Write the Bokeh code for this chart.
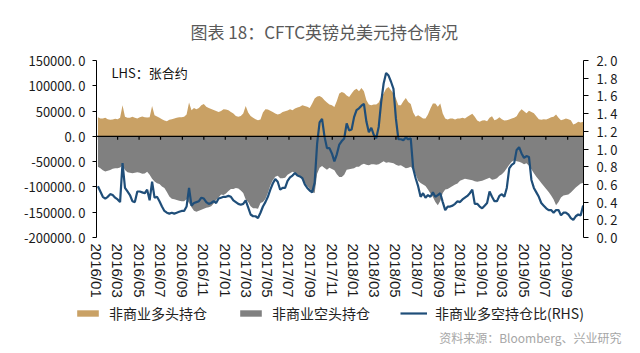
import pandas as pd
from bokeh.plotting import figure
from bokeh.models import (Range1d, LinearAxis, FixedTicker, Span, Label,
                          Legend, LegendItem)
from bokeh.core.properties import value
from bokeh.embed import file_html
from bokeh.resources import INLINE

title_text = "图表 18：CFTC英镑兑美元持仓情况"
lhs_note = "LHS：张合约"
source_text = "资料来源：Bloomberg、兴业研究"
series_names = ["非商业多头持仓", "非商业空头持仓", "非商业多空持仓比(RHS)"]

first_week = "2016-01-05"
axis_start = "2016-01-01"
axis_end = "2019-10-16"

long_pos = [
    37900, 35300, 35300, 36600, 34000, 32700, 33400, 34700, 34000, 36600,
    61500, 38600, 36600, 36600, 38600, 36600, 35300, 37900, 39300, 37900,
    37300, 37900, 60200, 41900, 39300, 36600, 34000, 31400, 30100, 32700,
    34000, 35300, 36600, 37900, 37900, 38600, 43200, 66800, 51700, 56300,
    53700, 56300, 61500, 64200, 58300, 56000, 54000, 52000, 50000, 48000,
    50000, 53700, 53000, 51700, 48400, 45100, 40500, 38600, 40500, 45100,
    60200, 47100, 40500, 36600, 34000, 32000, 33400, 47100, 53700, 53000,
    50400, 48400, 45100, 43200, 44500, 48400, 49700, 51000, 53700, 51700,
    55000, 57000, 58300, 61500, 60200, 58300, 56300, 64800, 74700, 78600,
    79900, 76600, 71400, 66800, 62800, 61500, 58000, 70000, 84500, 87800,
    85800, 81000, 77700, 84500, 91000, 94300, 89000, 95600, 89000, 71400,
    62800, 61500, 62800, 62800, 66800, 77700, 84500, 94300, 97600, 91000,
    84500, 74700, 61500, 61500, 69400, 75900, 68100, 64000, 47000, 38600,
    41900, 38600, 35300, 35300, 43200, 55000, 64800, 64800, 58300, 64800,
    45100, 35300, 33400, 35300, 35300, 33400, 35300, 35300, 36600, 35300,
    38600, 41900, 44500, 38600, 31400, 28700, 31400, 32000, 30100, 36600,
    39900, 32000, 34000, 37900, 34000, 31400, 32000, 33400, 35300, 36600,
    39900, 48400, 53700, 49700, 45800, 50400, 48400, 45800, 39900, 34000,
    32700, 34000, 33400, 35300, 37900, 38600, 43200, 36600, 32000, 33400,
    35300, 34000, 32000, 23500, 25500, 28700, 27400, 29000,
]

short_pos = [
    -60000, -63000, -66900, -69500, -68200, -66300, -64300, -63000, -63000, -61700,
    -57700, -66300, -70800, -72200, -72800, -72200, -70800, -72200, -74100, -73500,
    -70000, -76100, -83900, -89200, -92500, -94400, -99000, -102300, -110200, -118700,
    -123300, -124600, -125900, -127200, -128500, -128500, -124600, -131800, -140300, -146900,
    -149000, -147000, -145000, -143000, -141000, -140000, -138000, -133000, -125900, -121000,
    -115000, -116000, -113000, -108000, -104000, -104000, -102000, -103000, -107000, -112000,
    -125000, -130000, -138000, -142000, -142000, -143000, -132000, -130000, -124000, -112000,
    -97000, -87000, -80000, -78000, -83000, -83000, -82000, -76000, -73000, -70000,
    -72000, -76000, -80000, -86000, -92000, -98000, -104000, -110000, -112000, -74000,
    -62000, -58500, -62600, -66000, -62000, -64700, -67000, -75000, -80500, -80600,
    -76000, -66000, -65000, -64000, -63000, -60000, -60000, -56000, -54000, -56000,
    -57000, -55000, -55000, -56000, -55000, -52000, -49000, -52000, -51000, -52000,
    -53000, -56000, -58000, -57000, -60000, -63000, -62000, -60000, -66000, -75000,
    -88000, -92000, -95000, -98000, -105000, -113000, -120000, -130000, -136000, -128000,
    -112000, -105000, -104000, -101000, -98000, -95000, -93000, -88000, -86000, -84000,
    -85000, -86000, -87000, -89000, -90000, -89000, -88000, -86000, -84000, -82000,
    -86000, -85000, -83000, -78000, -75000, -70000, -63000, -56000, -50000, -47000,
    -49000, -50000, -52000, -55000, -53000, -58000, -65000, -73000, -80000, -86000,
    -92000, -98000, -104000, -110000, -117000, -125000, -136000, -130000, -121000, -117000,
    -116000, -115000, -111000, -106000, -101000, -97000, -93000, -92000,
]

ls_ratio = [
    0.58, 0.52, 0.46, 0.44, 0.46, 0.49, 0.48, 0.45, 0.43, 0.40,
    0.84, 0.56, 0.52, 0.48, 0.41, 0.40, 0.52, 0.52, 0.51, 0.50,
    0.54, 0.42, 0.63, 0.45, 0.46, 0.41, 0.35, 0.30, 0.28, 0.27,
    0.28, 0.27, 0.28, 0.29, 0.30, 0.30, 0.35, 0.56, 0.36, 0.39,
    0.40, 0.41, 0.45, 0.44, 0.40, 0.38, 0.39, 0.41, 0.39, 0.44,
    0.45, 0.46, 0.46, 0.47, 0.46, 0.42, 0.40, 0.38, 0.37, 0.38,
    0.42, 0.34, 0.26, 0.24, 0.24, 0.22, 0.28, 0.35, 0.40, 0.46,
    0.54, 0.61, 0.66, 0.63, 0.54, 0.56, 0.56, 0.64, 0.68, 0.70,
    0.73, 0.70, 0.69, 0.67, 0.60, 0.56, 0.53, 0.51, 0.62, 1.06,
    1.30, 1.34, 1.14, 1.01, 1.01, 0.95, 0.86, 0.94, 1.05, 1.09,
    1.12, 1.29, 1.21, 1.22, 1.36, 1.44, 1.46, 1.49, 1.51, 1.31,
    1.19, 1.24, 1.16, 1.12, 1.25, 1.53, 1.74, 1.86, 1.83, 1.76,
    1.68, 1.34, 1.11, 1.11, 1.10, 1.13, 1.11, 1.12, 0.78, 0.67,
    0.58, 0.46, 0.50, 0.45, 0.48, 0.46, 0.51, 0.46, 0.48, 0.50,
    0.40, 0.31, 0.35, 0.35, 0.36, 0.38, 0.41, 0.40, 0.43, 0.45,
    0.47, 0.50, 0.54, 0.38, 0.38, 0.35, 0.33, 0.36, 0.39, 0.52,
    0.46, 0.41, 0.41, 0.47, 0.49, 0.46, 0.56, 0.78, 0.82, 0.84,
    0.99, 1.02, 0.95, 0.90, 0.92, 0.91, 0.65, 0.56, 0.51, 0.46,
    0.39, 0.36, 0.33, 0.31, 0.31, 0.28, 0.31, 0.31, 0.25, 0.28,
    0.28, 0.26, 0.22, 0.20, 0.24, 0.26, 0.25, 0.36,
]

x_tick_labels = [
    "2016/01", "2016/03", "2016/05", "2016/07", "2016/09", "2016/11",
    "2017/01", "2017/03", "2017/05", "2017/07", "2017/09", "2017/11",
    "2018/01", "2018/03", "2018/05", "2018/07", "2018/09", "2018/11",
    "2019/01", "2019/03", "2019/05", "2019/07", "2019/09",
]
left_ticks = [-200000, -150000, -100000, -50000, 0, 50000, 100000, 150000]
left_tick_labels = ["-200000. 0", "-150000. 0", "-100000. 0", "-50000. 0",
                    "0. 0", "50000. 0", "100000. 0", "150000. 0"]
right_ticks = [0.0, 0.2, 0.4, 0.6, 0.8, 1.0, 1.2, 1.4, 1.6, 1.8, 2.0]
right_tick_labels = ["0. 0", "0. 2", "0. 4", "0. 6", "0. 8", "1. 0",
                     "1. 2", "1. 4", "1. 6", "1. 8", "2. 0"]

ORANGE = "#C9A165"
GRAY = "#808080"
BLUE = "#1F4E79"
CJK = "Noto Sans CJK SC"

origin = pd.Timestamp(axis_start)
n = len(long_pos)
dates = pd.date_range(first_week, periods=n, freq="7D")
xs = [float((d - origin).days) for d in dates]
zeros = [0] * n
tick_x = [float((pd.Timestamp(t.replace("/", "-") + "-01") - origin).days)
          for t in x_tick_labels]
x_end = float((pd.Timestamp(axis_end) - origin).days)

MAIN_H = 300
FOOT_H = 53

p = figure(width=640, height=MAIN_H,
           x_range=Range1d(0, x_end), y_range=Range1d(-200000, 150000),
           output_backend="svg", toolbar_location=None,
           min_border_left=96, min_border_right=57,
           min_border_top=60, min_border_bottom=MAIN_H - 238)
p.extra_y_ranges = {"ratio": Range1d(0, 2)}
p.outline_line_color = None
p.xgrid.visible = False
p.ygrid.visible = False
p.background_fill_color = "white"
p.border_fill_color = "white"

# title above the frame
p.title.text = title_text
p.title.align = "left"
p.title.offset = 94
p.title.standoff = 33
p.title.text_font = CJK
p.title.text_font_size = "17px"
p.title.text_font_style = "normal"
p.title.text_color = "#595959"

p.varea(x=xs, y1=zeros, y2=long_pos, fill_color=ORANGE)
p.varea(x=xs, y1=short_pos, y2=zeros, fill_color=GRAY)

# zero line with date ticks pointing down
p.add_layout(Span(location=0, dimension="width", line_color="black", line_width=1.2))
tick_len = 3.5 * 350000 / 178
p.segment(x0=tick_x, y0=[0] * len(tick_x), x1=tick_x, y1=[-tick_len] * len(tick_x),
          line_color="black", line_width=1.2)

p.line(x=xs, y=ls_ratio, y_range_name="ratio", line_color=BLUE, line_width=2.2)

# left axis
ya = p.yaxis[0]
ya.ticker = FixedTicker(ticks=left_ticks)
ya.major_label_overrides = dict(zip(left_ticks, left_tick_labels))
ya.axis_line_color = "black"
ya.major_tick_line_color = "black"
ya.major_tick_out = 4
ya.major_tick_in = 0
ya.minor_tick_out = 0
ya.minor_tick_in = 0
ya.major_label_standoff = 7
ya.major_label_text_font = CJK
ya.major_label_text_font_size = "13px"
ya.major_label_text_color = "#1a1a1a"

# right axis
ra = LinearAxis(y_range_name="ratio", ticker=FixedTicker(ticks=right_ticks))
ra.major_label_overrides = dict(zip(right_ticks, right_tick_labels))
ra.axis_line_color = "black"
ra.major_tick_line_color = "black"
ra.major_tick_out = 5
ra.major_tick_in = 0
ra.minor_tick_out = 0
ra.minor_tick_in = 0
ra.major_label_standoff = 8
ra.major_label_text_font = CJK
ra.major_label_text_font_size = "13px"
ra.major_label_text_color = "#1a1a1a"
p.add_layout(ra, "right")

# bottom axis: labels only
xa = p.xaxis[0]
xa.ticker = FixedTicker(ticks=tick_x)
xa.major_label_overrides = dict(zip(tick_x, x_tick_labels))
xa.major_label_orientation = "vertical"
xa.axis_line_color = None
xa.major_tick_out = 0
xa.major_tick_in = 0
xa.minor_tick_out = 0
xa.minor_tick_in = 0
xa.major_label_standoff = 6
xa.major_label_text_font = "Liberation Sans"
xa.major_label_text_font_size = "15px"
xa.major_label_text_color = "#1a1a1a"

p.add_layout(Label(x=15, y=165, x_units="screen", y_units="screen", text=lhs_note,
                   text_align="left", text_baseline="middle",
                   text_font=CJK, text_font_size="13px", text_color="#111111"))

# footer (separate root): legend + source
f = figure(width=640, height=FOOT_H, x_range=Range1d(0, 640), y_range=Range1d(0, FOOT_H),
           output_backend="svg", toolbar_location=None, min_border=0,
           x_axis_type=None, y_axis_type=None)
f.outline_line_color = None
f.xgrid.visible = False
f.ygrid.visible = False
f.background_fill_color = "white"
f.border_fill_color = "white"

# legend proxies (hidden copies of the series, shown only as legend swatches)
k_long = f.varea(x=xs, y1=zeros, y2=long_pos, fill_color=ORANGE, visible=False)
k_short = f.varea(x=xs, y1=short_pos, y2=zeros, fill_color=GRAY, visible=False)
k_ratio = f.line(x=xs, y=ls_ratio, line_color=BLUE, line_width=2.2, visible=False)

legend = Legend(items=[LegendItem(label=value(series_names[0]), renderers=[k_long]),
                       LegendItem(label=value(series_names[1]), renderers=[k_short]),
                       LegendItem(label=value(series_names[2]), renderers=[k_ratio])],
                orientation="horizontal", location=(74, 30),
                glyph_width=27, glyph_height=8, label_height=16, label_standoff=8,
                spacing=30, padding=0, margin=0,
                border_line_color=None, background_fill_alpha=0,
                inactive_fill_alpha=0,
                label_text_font=CJK, label_text_font_size="14px",
                label_text_color="#222222")
f.add_layout(legend)

f.add_layout(Label(x=621, y=FOOT_H - 37, x_units="screen", y_units="screen",
                   text=source_text, text_align="right", text_baseline="middle",
                   text_font=CJK, text_font_size="12px", text_color="#a6a6a6"))

open("out.html", "w").write(file_html([p, f], INLINE))
